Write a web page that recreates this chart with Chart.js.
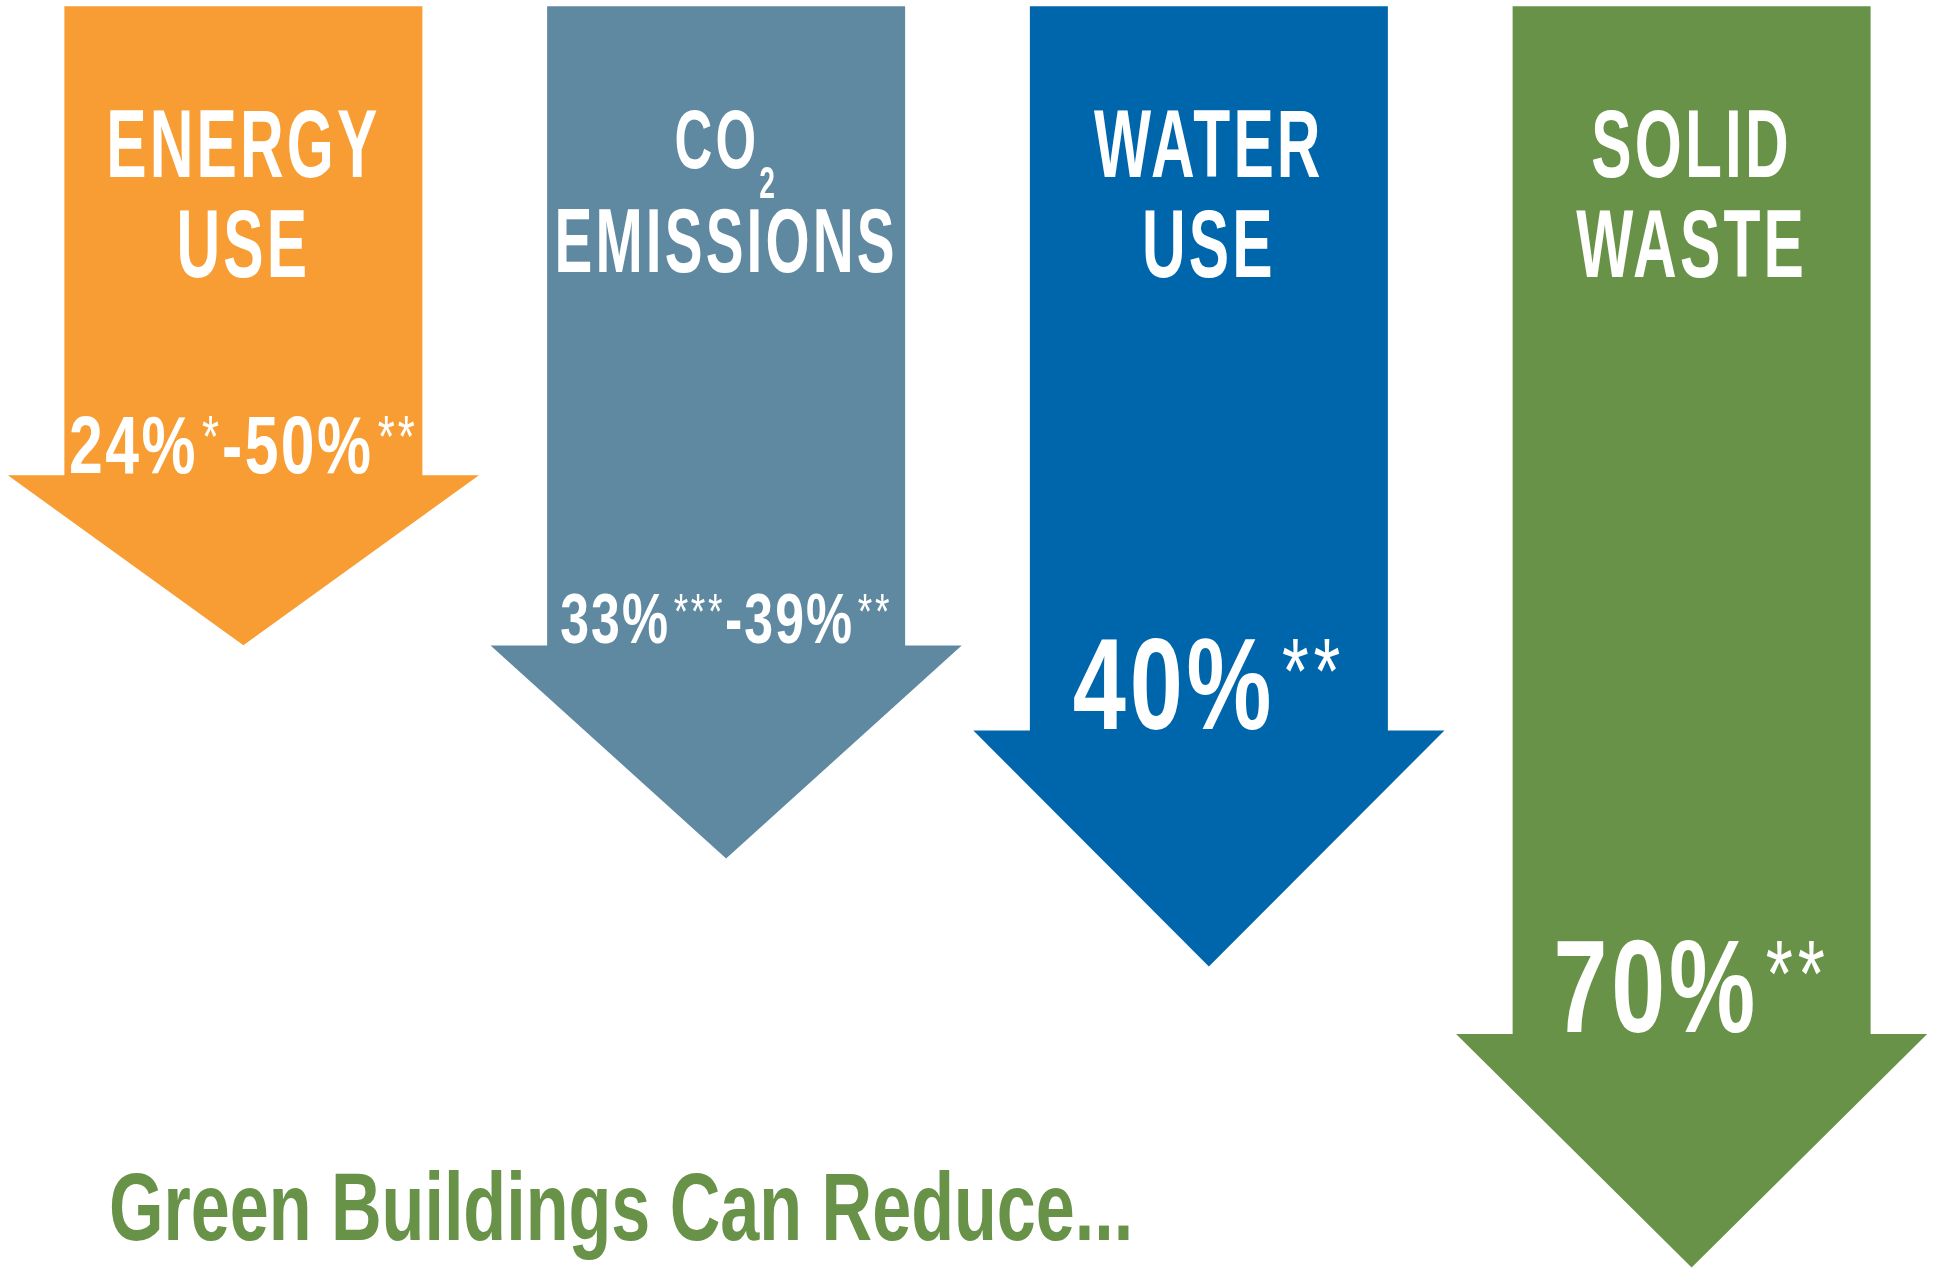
<!DOCTYPE html>
<html>
<head>
<meta charset="utf-8">
<title>Green Buildings Can Reduce...</title>
<script src="https://cdn.jsdelivr.net/npm/chart.js@4.4.1/dist/chart.umd.min.js"></script>
<style>
  html, body { margin: 0; padding: 0; background: #fff; }
  #wrap { width: 1937px; height: 1270px; }
</style>
</head>
<body>
<div id="wrap"><canvas id="chart" width="1937" height="1270"></canvas></div>
<script>
// categories
var categories = ['Energy use', 'CO2 emissions', 'Water use', 'Solid waste'];
// text inside each arrow ("_" = subscript piece)
var titleLines = [[['ENERGY'], ['USE']], [['CO', '_2'], ['EMISSIONS']], [['WATER'], ['USE']], [['SOLID'], ['WASTE']]];
// reduction labels ("^" = footnote marks)
var valueLabels = [['24%', '^*', '-50%', '^**'], ['33%', '^***', '-39%', '^**'], ['40%', '^**'], ['70%', '^**']];
// arrow depth, 0-100 measured downward: shaft start, shaft end, head tip
var shaftTop = [0.5, 0.5, 0.5, 0.5];
var shaftEnd = [37.5, 50.9, 57.6, 81.5];
var tipDepth = [50.8, 67.6, 76.1, 99.8];
var colors = ['#f89d33', '#5f88a1', '#0066ac', '#679247'];
var footerText = 'Green Buildings Can Reduce...';

// styling
var FONT = '"Liberation Sans", Arial, sans-serif';
var titleSizes = [[96, 96], [83, 90], [96, 96], [96, 96]];
var titleBase = [[13.9, 21.8], [13.2, 21.4], [13.9, 21.8], [13.9, 21.8]];
var valueSizes = [82, 70, 129, 131];
var HEAD_RATIO = 1.316;

function drawPieces(ctx, pieces, cx, baseline, size, squeeze, spacing) {
  var parts = pieces.map(function (p, k) {
    var kind = p.charAt(0) === '^' ? 'sup' : (p.charAt(0) === '_' ? 'sub' : 'main');
    var text = kind === 'main' ? p : p.slice(1);
    var fs = kind === 'sup' ? size * 0.72 : (kind === 'sub' ? size * 0.54 : size);
    var font = (kind === 'sup' ? '' : 'bold ') + fs + 'px ' + FONT;
    ctx.font = font;
    ctx.letterSpacing = (kind === 'main' ? spacing : size * 0.05) + 'px';
    var gap = kind === 'sup' ? size * 0.07 : 0;
    return { text: text, kind: kind, fs: fs, font: font, gap: gap, w: ctx.measureText(text).width + gap };
  });
  var total = parts.reduce(function (s, p) { return s + p.w; }, 0);
  ctx.save();
  ctx.translate(cx - total * squeeze / 2, baseline);
  ctx.scale(squeeze, 1);
  var x = 0;
  parts.forEach(function (p) {
    ctx.font = p.font;
    ctx.letterSpacing = (p.kind === 'main' ? spacing : size * 0.05) + 'px';
    var dy = p.kind === 'sup' ? -size * 0.2 : (p.kind === 'sub' ? size * 0.36 : 0);
    ctx.fillText(p.text, x + p.gap, dy);
    x += p.w;
  });
  ctx.restore();
  ctx.letterSpacing = '0px';
}

var arrowPlugin = {
  id: 'arrows',
  afterDatasetsDraw: function (chart) {
    var ctx = chart.ctx;
    var y = chart.scales.y;
    chart.getDatasetMeta(0).data.forEach(function (bar, i) {
      var p = bar.getProps(['x', 'y', 'base', 'width'], true);
      var half = p.width / 2 * HEAD_RATIO;
      var baseY = Math.max(p.y, p.base);
      ctx.save();
      ctx.fillStyle = colors[i];
      ctx.beginPath();
      ctx.moveTo(p.x - half, baseY - 1);
      ctx.lineTo(p.x + half, baseY - 1);
      ctx.lineTo(p.x, y.getPixelForValue(tipDepth[i]));
      ctx.closePath();
      ctx.fill();
      ctx.restore();
    });
  },
  afterDraw: function (chart) {
    var ctx = chart.ctx;
    var y = chart.scales.y;
    ctx.save();
    ctx.fillStyle = '#ffffff';
    ctx.textBaseline = 'alphabetic';
    ctx.textAlign = 'left';
    chart.getDatasetMeta(0).data.forEach(function (bar, i) {
      var p = bar.getProps(['x', 'y', 'base'], true);
      titleLines[i].forEach(function (line, j) {
        drawPieces(ctx, line, p.x, y.getPixelForValue(titleBase[i][j]), titleSizes[i][j], 0.63, 5);
      });
      drawPieces(ctx, valueLabels[i], p.x, Math.max(p.y, p.base) - 3, valueSizes[i], 0.74, valueSizes[i] * 0.04);
    });
    ctx.fillStyle = colors[3];
    ctx.font = 'bold 96px ' + FONT;
    ctx.translate(109, 1240);
    ctx.scale(0.73, 1);
    ctx.fillText(footerText, 0, 0);
    ctx.restore();
  }
};

new Chart(document.getElementById('chart'), {
  type: 'bar',
  data: {
    labels: categories,
    datasets: [{
      data: shaftTop.map(function (t, i) { return [t, shaftEnd[i]]; }),
      backgroundColor: colors,
      borderWidth: 0,
      borderSkipped: false,
      barPercentage: 0.7416,
      categoryPercentage: 1
    }]
  },
  options: {
    responsive: false,
    animation: false,
    events: [],
    layout: { padding: { left: 2, right: 4, top: 0, bottom: 0 } },
    plugins: {
      legend: { display: false },
      tooltip: { enabled: false }
    },
    scales: {
      x: { display: false },
      y: { display: false, min: 0, max: 100, reverse: true }
    }
  },
  plugins: [arrowPlugin]
});
</script>
</body>
</html>
